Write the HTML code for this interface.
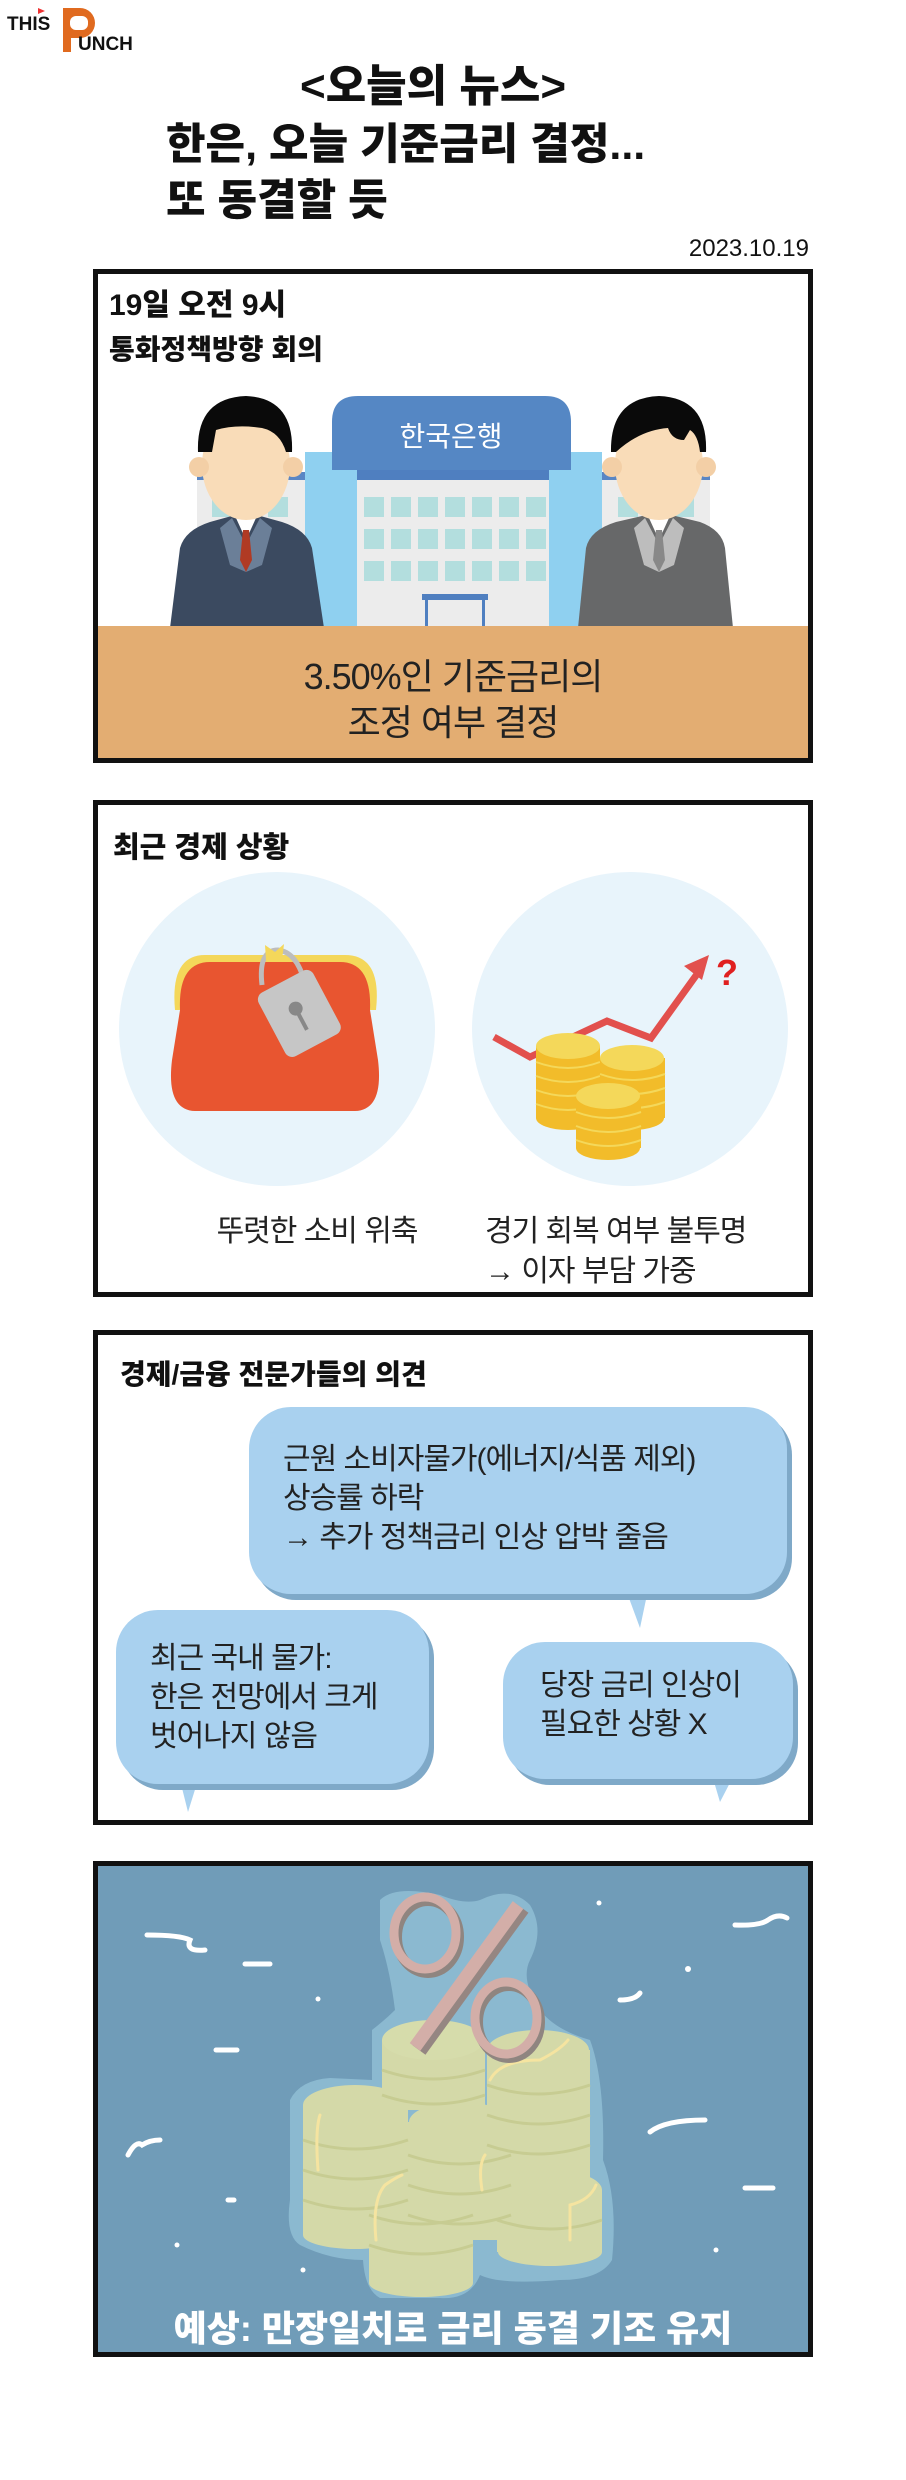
<!DOCTYPE html>
<html><head><meta charset="utf-8">
<style>
*{margin:0;padding:0;box-sizing:border-box}
body{width:906px;height:2480px;background:#fff;position:relative;overflow:hidden;font-family:"Liberation Sans","Noto Sans CJK KR",sans-serif;color:#111}
.a{position:absolute;white-space:nowrap}
.panel{position:absolute;left:93px;width:720px;border:5px solid #111}
.b{font-weight:900}
.bub{position:absolute;background:#a9d1ef;border-radius:42px;box-shadow:5px 6px 0 #7fa9c8}
.bt{position:absolute;font-size:30px;line-height:39px;color:#222;letter-spacing:-1px}
</style></head><body>

<!-- logo -->
<div class="a b" style="left:7px;top:14px;font-size:19px;font-family:'Liberation Sans',sans-serif">THIS</div>
<div class="a" style="left:38px;top:8px;width:0;height:0;border-left:7px solid #e33;border-top:3px solid transparent;border-bottom:3px solid transparent"></div>
<div class="a" style="left:63px;top:8px;width:8px;height:44px;background:#e06a1f"></div>
<div class="a" style="left:63px;top:8px;width:32px;height:30px;background:#e06a1f;border-radius:0 16px 16px 0"></div>
<div class="a" style="left:70px;top:16px;width:18px;height:14px;background:#fff;border-radius:6px"></div>
<div class="a b" style="left:78px;top:34px;font-size:19px;font-family:'Liberation Sans',sans-serif">UNCH</div>

<!-- title -->
<div class="a b" style="left:300px;top:60px;font-size:44px;line-height:54px">&lt;오늘의 뉴스&gt;</div>
<div class="a b" style="left:166px;top:118px;font-size:43px;line-height:54px">한은, 오늘 기준금리 결정...</div>
<div class="a b" style="left:166px;top:174px;font-size:43px;line-height:54px">또 동결할 듯</div>
<div class="a" style="right:97px;top:234px;font-size:24px;line-height:30px">2023.10.19</div>

<!-- panel 1 -->
<div class="panel" style="top:269px;height:494px;overflow:hidden">
 <div class="a b" style="left:11px;top:14px;font-size:30px;line-height:36px">19일 오전 9시</div>
 <div class="a b" style="left:11px;top:59px;font-size:28px;line-height:34px">통화정책방향 회의</div>
 <svg class="a" style="left:-5px;top:-5px" width="720" height="494" viewBox="93 269 720 494">
  <rect x="197" y="472" width="110" height="156" fill="#ececec"/>
  <rect x="197" y="472" width="110" height="8" fill="#5a86c4"/>
  <rect x="600" y="472" width="110" height="156" fill="#ececec"/>
  <rect x="600" y="472" width="110" height="8" fill="#5a86c4"/>
  <rect x="212" y="497" width="20" height="20" fill="#b3dede"/><rect x="268" y="497" width="20" height="20" fill="#b3dede"/>
  <rect x="618" y="497" width="20" height="20" fill="#b3dede"/><rect x="674" y="497" width="20" height="20" fill="#b3dede"/>
  <rect x="305" y="452" width="52" height="176" fill="#8fd0f0"/>
  <rect x="549" y="452" width="53" height="176" fill="#8fd0f0"/>
  <rect x="357" y="470" width="192" height="158" fill="#ececec"/>
  <rect x="357" y="470" width="192" height="10" fill="#4f7fc0"/>
  <g fill="#b3dede">
   <rect x="364" y="497" width="20" height="20"/><rect x="391" y="497" width="20" height="20"/><rect x="418" y="497" width="20" height="20"/><rect x="445" y="497" width="20" height="20"/><rect x="472" y="497" width="20" height="20"/><rect x="499" y="497" width="20" height="20"/><rect x="526" y="497" width="20" height="20"/>
   <rect x="364" y="529" width="20" height="20"/><rect x="391" y="529" width="20" height="20"/><rect x="418" y="529" width="20" height="20"/><rect x="445" y="529" width="20" height="20"/><rect x="472" y="529" width="20" height="20"/><rect x="499" y="529" width="20" height="20"/><rect x="526" y="529" width="20" height="20"/>
   <rect x="364" y="561" width="20" height="20"/><rect x="391" y="561" width="20" height="20"/><rect x="418" y="561" width="20" height="20"/><rect x="445" y="561" width="20" height="20"/><rect x="472" y="561" width="20" height="20"/><rect x="499" y="561" width="20" height="20"/><rect x="526" y="561" width="20" height="20"/>
  </g>
  <rect x="422" y="594" width="66" height="6" fill="#4f7fc0"/>
  <rect x="425" y="600" width="3" height="28" fill="#4f7fc0"/><rect x="482" y="600" width="3" height="28" fill="#4f7fc0"/>
  <path d="M332 470 V422 Q332 396 358 396 H545 Q571 396 571 422 V470 Z" fill="#5587c4"/>
  <text x="451" y="446" fill="#fff" font-size="28" text-anchor="middle" font-family="Liberation Sans, Noto Sans CJK KR, sans-serif">한국은행</text>
  <path d="M170 628 L180 548 Q185 530 210 522 L246 512 L282 522 Q307 530 312 548 L324 628 Z" fill="#3b4a60"/>
  <path d="M232 518 L246 545 L260 518 L272 528 L262 565 L246 572 L230 565 L220 528Z" fill="#6b7f98"/>
  <path d="M236 518 L246 540 L256 518Z" fill="#fff"/>
  <path d="M243 530 L249 530 L252 560 L246 572 L240 560Z" fill="#b03a24"/>
  <ellipse cx="246" cy="465" rx="44" ry="55" fill="#f9dcb8"/>
  <circle cx="199" cy="467" r="10" fill="#f3cfa6"/><circle cx="293" cy="467" r="10" fill="#f3cfa6"/>
  <path d="M198 452 Q196 398 246 396 Q294 398 292 452 L286 452 Q280 432 262 428 Q236 424 216 430 L212 452Z" fill="#0a0a0a"/>
  <path d="M578 628 L586 548 Q590 530 616 522 L659 512 L700 522 Q722 530 725 548 L733 628 Z" fill="#676869"/>
  <path d="M645 518 L659 545 L673 518 L684 528 L674 565 L659 572 L644 565 L634 528Z" fill="#bdbdbd"/>
  <path d="M649 518 L659 540 L669 518Z" fill="#fff"/>
  <path d="M656 530 L662 530 L665 560 L659 572 L653 560Z" fill="#888"/>
  <ellipse cx="659" cy="465" rx="44" ry="55" fill="#f9dcb8"/>
  <circle cx="612" cy="467" r="10" fill="#f3cfa6"/><circle cx="706" cy="467" r="10" fill="#f3cfa6"/>
  <path d="M611 452 Q610 398 659 396 Q708 398 706 452 L700 452 Q698 435 690 430 L684 440 Q672 440 668 428 Q640 430 616 452Z" fill="#0a0a0a"/>
  <rect x="93" y="626" width="720" height="140" fill="#e3ad72"/>
 </svg>
 <div class="a" style="left:0;width:710px;text-align:center;top:380px;font-size:36px;line-height:46px;color:#222;letter-spacing:-1px">3.50%인 기준금리의<br>조정 여부 결정</div>
</div>

<!-- panel 2 -->
<div class="panel" style="top:800px;height:497px;overflow:hidden">
 <div class="a b" style="left:15px;top:25px;font-size:29px;line-height:36px">최근 경제 상황</div>
 <svg class="a" style="left:-5px;top:-5px" width="720" height="497" viewBox="93 800 720 497">
  <ellipse cx="277" cy="1029" rx="158" ry="157" fill="#e8f4fb"/>
  <ellipse cx="630" cy="1029" rx="158" ry="157" fill="#e8f4fb"/>
  <path d="M175 1010 Q170 955 205 955 L345 955 Q382 955 376 1010 Z" fill="#f4d75a"/>
  <path d="M180 1010 Q178 962 210 962 L340 962 Q372 962 370 1010 L378 1060 Q384 1110 355 1111 L195 1111 Q166 1110 172 1060Z" fill="#e85530"/>
  <path d="M262 985 Q258 950 278 950 Q296 952 304 980" stroke="#bdbdbd" stroke-width="5" fill="none"/>
  <path d="M265 945 L275 952 L284 944 L282 960 L266 960Z" fill="#f4d75a"/>
  <g transform="rotate(-28 298 1013)">
   <rect x="268" y="978" width="62" height="72" rx="8" fill="#c6c6c6"/>
   <circle cx="298" cy="1008" r="7" fill="#888"/>
   <rect x="296" y="1010" width="4" height="22" fill="#888"/>
  </g>
  <polyline points="494,1037 530,1057 607,1021 651,1038 700,970" stroke="#e2504d" stroke-width="7" fill="none"/>
  <path d="M709 955 L684 966 L702 980Z" fill="#e2504d"/>
  <text x="716" y="985" font-size="36" font-weight="900" fill="#e02020" font-family="Liberation Sans,sans-serif">?</text>
  <g>
   <rect x="536" y="1046" width="64" height="72" fill="#f2bc2a"/>
   <ellipse cx="568" cy="1118" rx="32" ry="12" fill="#f2bc2a"/>
   <ellipse cx="568" cy="1046" rx="32" ry="13" fill="#f4d85a"/>
   <g stroke="#f4d85a" stroke-width="2" fill="none"><path d="M536 1062 Q568 1074 600 1062"/><path d="M536 1076 Q568 1088 600 1076"/><path d="M536 1090 Q568 1102 600 1090"/><path d="M536 1104 Q568 1116 600 1104"/></g>
   <rect x="600" y="1058" width="65" height="60" fill="#f2bc2a"/>
   <ellipse cx="632" cy="1118" rx="32" ry="12" fill="#f2bc2a"/>
   <ellipse cx="632" cy="1058" rx="32" ry="13" fill="#f4d85a"/>
   <g stroke="#f4d85a" stroke-width="2" fill="none"><path d="M600 1074 Q632 1086 665 1074"/><path d="M600 1088 Q632 1100 665 1088"/><path d="M600 1102 Q632 1114 665 1102"/></g>
   <rect x="576" y="1096" width="65" height="52" fill="#f2bc2a"/>
   <ellipse cx="608" cy="1148" rx="32" ry="12" fill="#f2bc2a"/>
   <ellipse cx="608" cy="1096" rx="32" ry="13" fill="#f4d85a"/>
   <g stroke="#f4d85a" stroke-width="2" fill="none"><path d="M576 1112 Q608 1124 641 1112"/><path d="M576 1126 Q608 1138 641 1126"/><path d="M576 1140 Q608 1152 641 1140"/></g>
  </g>
 </svg>
 <div class="a" style="left:39px;width:360px;text-align:center;top:407px;font-size:30px;line-height:40px;color:#222;letter-spacing:-1px">뚜렷한 소비 위축</div>
 <div class="a" style="left:387px;top:407px;font-size:30px;line-height:40px;color:#222;letter-spacing:-1px">경기 회복 여부 불투명<br>→ 이자 부담 가중</div>
</div>

<!-- panel 3 -->
<div class="panel" style="top:1330px;height:495px">
 <div class="a b" style="left:22px;top:22px;font-size:28px;line-height:36px">경제/금융 전문가들의 의견</div>
</div>
<svg class="a" style="left:0;top:0" width="906" height="2480">
 <path d="M626 1590 L640 1628 L648 1590Z" fill="#a9d1ef"/>
 <path d="M180 1780 L188 1812 L198 1780Z" fill="#a9d1ef"/>
 <path d="M712 1775 L720 1802 L734 1775Z" fill="#a9d1ef"/>
</svg>
<div class="bub" style="left:249px;top:1407px;width:538px;height:187px"></div>
<div class="bt a" style="left:283px;top:1440px">근원 소비자물가(에너지/식품 제외)<br>상승률 하락<br>→ 추가 정책금리 인상 압박 줄음</div>
<div class="bub" style="left:116px;top:1610px;width:313px;height:174px"></div>
<div class="bt a" style="left:150px;top:1639px">최근 국내 물가:<br>한은 전망에서 크게<br>벗어나지 않음</div>
<div class="bub" style="left:503px;top:1642px;width:290px;height:137px"></div>
<div class="bt a" style="left:540px;top:1666px">당장 금리 인상이<br>필요한 상황 X</div>

<!-- panel 4 -->
<div class="panel" style="top:1861px;height:496px;background:#709cb8;overflow:hidden">
 <svg class="a" style="left:-5px;top:-5px" width="720" height="496" viewBox="93 1861 720 496">
  <path d="M380 1900 Q395 1885 440 1895 Q465 1905 480 1900 Q510 1885 530 1905 Q545 1930 530 1960 Q520 1980 540 2010 Q555 2030 590 2040 Q605 2080 603 2160 Q618 2200 612 2260 Q600 2280 560 2280 Q500 2285 480 2275 Q470 2300 440 2298 L380 2298 Q365 2290 363 2260 Q330 2260 300 2245 Q285 2235 290 2200 L290 2100 Q300 2080 330 2078 L372 2080 L372 2030 Q385 2020 395 2010 Q390 1970 380 1940Z" fill="#8bb9d0"/>
  <g fill="#d4d9a8">
   <rect x="382" y="2040" width="103" height="70"/><ellipse cx="433" cy="2040" rx="51" ry="20" fill="#d6dcab"/>
   <rect x="487" y="2050" width="103" height="130"/><ellipse cx="538" cy="2050" rx="51" ry="20"/>
   <rect x="303" y="2105" width="105" height="130"/><ellipse cx="355" cy="2105" rx="52" ry="20"/><ellipse cx="355" cy="2235" rx="52" ry="14"/>
   <rect x="408" y="2122" width="103" height="118"/><ellipse cx="460" cy="2122" rx="51" ry="20"/>
   <rect x="497" y="2190" width="105" height="62"/><ellipse cx="550" cy="2190" rx="52" ry="20"/><ellipse cx="550" cy="2252" rx="52" ry="14"/>
   <rect x="369" y="2183" width="104" height="100"/><ellipse cx="421" cy="2183" rx="52" ry="20"/><ellipse cx="421" cy="2283" rx="52" ry="14"/>
  </g>
  <g stroke="#c7cc92" stroke-width="3" fill="none">
   <path d="M303 2140 Q355 2158 408 2140"/><path d="M303 2170 Q355 2188 408 2170"/><path d="M303 2200 Q355 2218 408 2200"/>
   <path d="M487 2085 Q538 2103 590 2085"/><path d="M487 2115 Q538 2133 590 2115"/><path d="M487 2145 Q538 2163 590 2145"/>
   <path d="M382 2070 Q433 2088 485 2070"/><path d="M382 2095 Q433 2113 485 2095"/>
   <path d="M408 2155 Q460 2173 511 2155"/><path d="M408 2185 Q460 2203 511 2185"/><path d="M408 2215 Q460 2233 511 2215"/>
   <path d="M369 2215 Q421 2233 473 2215"/><path d="M369 2245 Q421 2263 473 2245"/>
   <path d="M497 2220 Q550 2238 602 2220"/>
  </g>
  <g stroke="#f5e4a0" stroke-width="3" fill="none" stroke-linecap="round">
   <path d="M320 2115 Q315 2130 318 2170"/><path d="M376 2240 Q372 2200 385 2185 Q395 2178 402 2175"/><path d="M490 2080 Q500 2060 540 2060 Q560 2050 568 2040"/><path d="M485 2155 Q478 2165 482 2190"/><path d="M570 2240 L570 2205 Q590 2200 596 2185"/>
  </g>
  <g fill="none">
   <ellipse cx="428" cy="1937" rx="31" ry="36" stroke="#8f8580" stroke-width="10"/>
   <ellipse cx="425" cy="1933" rx="31" ry="36" stroke="#d3aea8" stroke-width="9"/>
   <ellipse cx="509" cy="2022" rx="31" ry="36" stroke="#8f8580" stroke-width="10"/>
   <ellipse cx="506" cy="2018" rx="31" ry="36" stroke="#d3aea8" stroke-width="9"/>
   <line x1="522" y1="1908" x2="419" y2="2050" stroke="#958682" stroke-width="16"/>
   <line x1="518" y1="1905" x2="415" y2="2047" stroke="#d3aea8" stroke-width="13"/>
  </g>
  <g stroke="#fff" stroke-width="5" fill="none" stroke-linecap="round">
   <path d="M147 1935 Q180 1935 190 1940 Q185 1952 205 1950"/><path d="M245 1964 H270"/><path d="M216 2050 H237"/>
   <path d="M128 2155 Q136 2140 142 2145 Q150 2140 160 2140"/><path d="M228 2200 H234"/><path d="M735 1925 Q760 1926 768 1920 Q778 1913 787 1918"/>
   <path d="M620 2000 Q635 2000 640 1993"/><path d="M650 2132 Q665 2120 705 2120"/><path d="M745 2188 H773"/>
  </g>
  <g fill="#fff"><circle cx="318" cy="1999" r="2.5"/><circle cx="599" cy="1903" r="2.5"/><circle cx="688" cy="1969" r="3"/><circle cx="177" cy="2245" r="2.5"/><circle cx="303" cy="2270" r="2.5"/><circle cx="716" cy="2250" r="2.5"/></g>
 </svg>
 <div class="a b" style="left:0;width:710px;text-align:center;top:440px;font-size:36px;line-height:46px;color:#fff">예상: 만장일치로 금리 동결 기조 유지</div>
</div>

</body></html>
